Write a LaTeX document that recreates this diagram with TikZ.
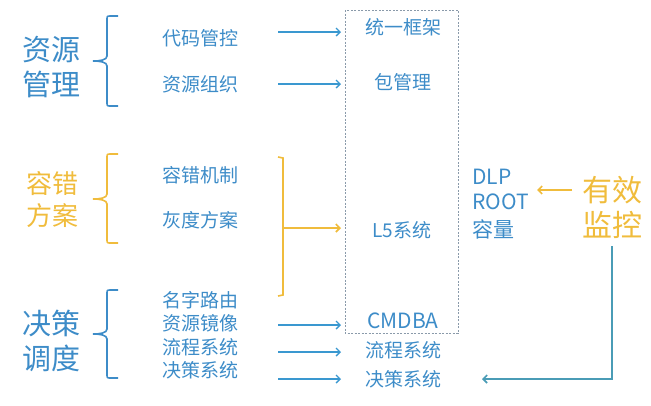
\documentclass[tikz,border=0pt]{standalone}
\usepackage{fontspec}
\setmainfont{Noto Sans CJK SC}
\usetikzlibrary{arrows.meta}
\definecolor{cblue}{HTML}{3D8CC8}
\definecolor{cline}{HTML}{3A98D0}
\definecolor{corange}{HTML}{F0BC3C}
\definecolor{cteal}{HTML}{4A9CB6}
\definecolor{cbox}{HTML}{8A9AAA}
\begin{document}
\begin{tikzpicture}[x=1pt,y=-1pt,
  big/.style={align=center, font=\fontsize{29}{35}\selectfont, text=cblue, inner sep=0pt},
  item/.style={font=\fontsize{19}{22}\selectfont, text=cblue, inner sep=0pt},
  ritem/.style={font=\fontsize{21}{24}\selectfont, text=cblue, inner sep=0pt, anchor=west},
  arr/.style={draw=cline, line width=1.4pt, -{Straight Barb[length=4pt,width=8pt]}},
  bracebl/.style={draw=cblue, line width=1.6pt},
  braceor/.style={draw=corange, line width=1.6pt}]
\useasboundingbox (0,0) rectangle (651,405);

% group labels
\node[big] (rm) at (52,67) {资源\\管理};
\node[big, text=corange, font=\fontsize{26}{32}\selectfont] (rc) at (52,200) {容错\\方案};
\node[big] (jc) at (52,341) {决策\\调度};
\node[big, text=corange, font=\fontsize{30}{35}\selectfont] (jk) at (612,207) {有效\\监控};

% braces
\draw[bracebl] (118,16) -- (111,16) .. controls (107,16) .. (107,20) -- (107,56)
  .. controls (107,60) and (100,61) .. (93,61) .. controls (100,61) and (107,62) .. (107,66)
  -- (107,102) .. controls (107,106) .. (111,106) -- (118,106);
\draw[braceor] (118,154) -- (111,154) .. controls (107,154) .. (107,158) -- (107,194)
  .. controls (107,198) and (100,199) .. (93,199) .. controls (100,199) and (107,200) .. (107,204)
  -- (107,239) .. controls (107,243) .. (111,243) -- (118,243);
\draw[bracebl] (118,290) -- (111,290) .. controls (107,290) .. (107,294) -- (107,329)
  .. controls (107,333) and (100,334) .. (93,334) .. controls (100,334) and (107,335) .. (107,339)
  -- (107,374) .. controls (107,378) .. (111,378) -- (118,378);

% middle items
\node[item] (dmgk) at (200,38) {代码管控};
\node[item] (zyzz) at (200,84) {资源组织};
\node[item] (rcjz) at (200,175) {容错机制};
\node[item] (hdfa) at (200,220) {灰度方案};
\node[item] (mzly) at (200,300) {名字路由};
\node[item] (zyjx) at (200,323) {资源镜像};
\node[item] (lcxt) at (200,347) {流程系统};
\node[item] (jcxt) at (200,370) {决策系统};

% right column
\draw[cbox, line width=0.8pt, dash pattern=on 2pt off 1.5pt] (345,10) rectangle (458,333);
\node[item] (tykj) at (403,27) {统一框架};
\node[item] (bgl) at (403,82) {包管理};
\node[item] (l5) at (402,230) {L5系统};
\node[item, font=\fontsize{21}{24}\selectfont] (cmdba) at (403,321) {CMDBA};
\node[item] (rlc) at (403,350) {流程系统};
\node[item] (rjc) at (403,379) {决策系统};

\node[ritem] (dlp) at (472,177) {DLP};
\node[ritem] (root) at (472,202) {ROOT};
\node[ritem] (rl) at (472,229) {容量};

% arrows
\coordinate (a1s) at (278,32); \coordinate (a1e) at (341,32);
\coordinate (a2s) at (278,84); \coordinate (a2e) at (341,84);
\coordinate (a3s) at (278,325); \coordinate (a3e) at (341,325);
\coordinate (a4s) at (278,352); \coordinate (a4e) at (341,352);
\coordinate (a5s) at (278,379); \coordinate (a5e) at (341,379);
\draw[arr] (a1s) -- (a1e);
\draw[arr] (a2s) -- (a2e);
\draw[arr] (a3s) -- (a3e);
\draw[arr] (a4s) -- (a4e);
\draw[arr] (a5s) -- (a5e);

% orange bracket to L5
\draw[braceor] (278,157) -- (283,158) -- (283,295) -- (278,296);
\coordinate (obs) at (283,228); \coordinate (obe) at (341,228);
\draw[braceor, -{Straight Barb[length=4pt,width=8pt]}] (obs) -- (obe);

% monitoring arrows
\coordinate (ms) at (572,190); \coordinate (me) at (537,190);
\draw[braceor, -{Straight Barb[length=4pt,width=8pt]}] (ms) -- (me);
\coordinate (ts) at (612,246); \coordinate (te) at (482,379);
\draw[draw=cteal, line width=1.6pt, -{Straight Barb[length=4pt,width=8pt]}] (ts) |- (te);
\end{tikzpicture}
\end{document}
